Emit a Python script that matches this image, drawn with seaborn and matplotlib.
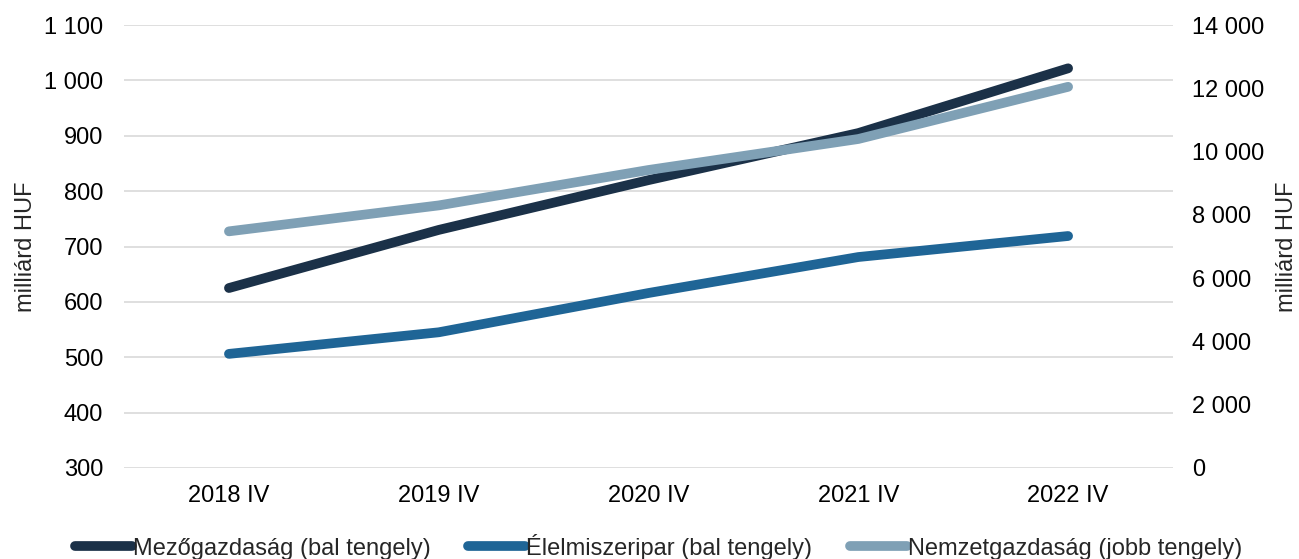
import pandas as pd
import matplotlib.pyplot as plt
import seaborn as sns
from matplotlib.ticker import FuncFormatter

# -----------------------------
# Data
# -----------------------------
periods = ["2018 IV", "2019 IV", "2020 IV", "2021 IV", "2022 IV"]
mezogazdasag = [625, 730, 820, 905, 1022]
elelmiszeripar = [506, 545, 616, 681, 719]
nemzetgazdasag = [7480, 8300, 9420, 10400, 12050]

labels = ["Mezőgazdaság (bal tengely)", "Élelmiszeripar (bal tengely)",
          "Nemzetgazdaság (jobb tengely)"]
colors = ["#1b3148", "#1f6596", "#7fa0b5"]

df_left = pd.DataFrame({
    "period": periods * 2,
    "value": mezogazdasag + elelmiszeripar,
    "series": [labels[0]] * 5 + [labels[1]] * 5,
})
df_right = pd.DataFrame({"period": periods, "value": nemzetgazdasag})

sns.set_theme(style="white")
plt.rcParams["font.family"] = ["Liberation Sans", "DejaVu Sans"]
fs = 17

fig = plt.figure(figsize=(12.99, 5.59), dpi=100)
ax = fig.add_axes([0.0955, 0.163, 0.8075, 0.792])
ax2 = ax.twinx()

lw = 7
sns.lineplot(data=df_left, x="period", y="value", hue="series",
             palette=colors[:2], ax=ax, linewidth=lw, solid_capstyle="round",
             legend=False, sort=False)
# right axis series (drawn on top, as in the original)
sns.lineplot(data=df_right, x="period", y="value", ax=ax2, color=colors[2],
             linewidth=lw, solid_capstyle="round", legend=False, sort=False)

ax.set_xlim(-0.5, 4.5)
ax.set_ylim(300, 1100)
ax.set_yticks(range(300, 1101, 100))
ax2.set_ylim(0, 14000)
ax2.set_yticks(range(0, 14001, 2000))

fmt = FuncFormatter(lambda v, p: f"{int(v):,}".replace(",", " "))
ax.yaxis.set_major_formatter(fmt)
ax2.yaxis.set_major_formatter(fmt)

ax.grid(axis="y", color="#d9d9d9", linewidth=1.2)
ax.grid(axis="x", visible=False)
ax2.grid(False)
for a in (ax, ax2):
    for s in a.spines.values():
        s.set_visible(False)
    a.tick_params(length=0, labelsize=fs, colors="black")
ax.tick_params(axis="y", pad=15)
ax.tick_params(axis="x", pad=12)
ax2.tick_params(axis="y", pad=14)

ax.set_xlabel("")
ax.set_ylabel("milliárd HUF", fontsize=fs)
ax2.set_ylabel("milliárd HUF", fontsize=fs)
ax.yaxis.set_label_coords(-0.083, 0.5)
ax2.yaxis.set_label_coords(1.098, 0.5)

# -----------------------------
# Legend
# -----------------------------
handles = [plt.Line2D([], [], color=c, linewidth=lw, solid_capstyle="round")
           for c in colors]
fig.legend(handles, labels, loc="center", bbox_to_anchor=(0.507, 0.022),
           ncol=3, frameon=False, fontsize=fs, handlelength=2.4,
           handletextpad=0.05, columnspacing=1.6)

plt.savefig("out.png", dpi=100)
